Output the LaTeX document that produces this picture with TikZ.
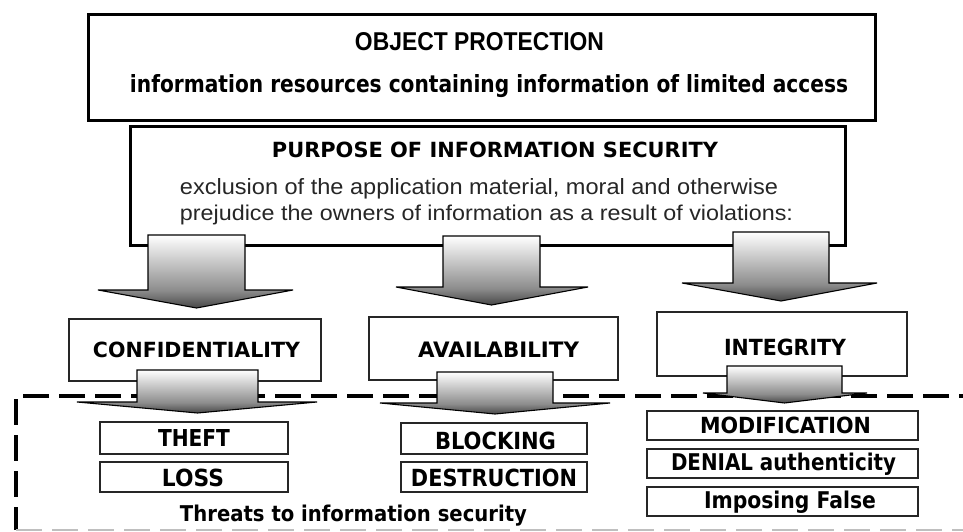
\documentclass[tikz,border=0pt]{standalone}
\usepackage{fontspec}
\setmainfont{Liberation Sans}
\newfontfamily\tahoma{DejaVu Sans}
\usepackage{graphicx}
% text fitted to a given width and height (in pt)
\newcommand{\fitbox}[3]{\resizebox{#1pt}{#2pt}{#3}}
% block arrow: white at the top of the shaft, darkening towards the tip
\pgfdeclareverticalshading{blockfill}{100bp}{%
  color(0bp)=(black!72); color(25bp)=(black!72); color(37bp)=(black!45);
  color(75bp)=(white); color(100bp)=(white)}
% #1 name, #2/#3 shaft left/right, #4 shaft top, #5 head base y,
% #6/#7 head left/right, #8 tip y
\newcommand{\blockarrow}[8]{%
  \coordinate (#1-tip) at ({(#2+#3)/2},#8);
  \path[shading=blockfill, draw=black, line width=1.1pt, line join=miter]
    (#2,#4) -- (#3,#4) -- (#3,#5) -- (#7,#5) -- (#1-tip) -- (#6,#5)
    -- (#2,#5) -- cycle;}
\begin{document}
\begin{tikzpicture}[x=1pt, y=-1pt,
  bigbox/.style={draw=black, line width=3pt, fill=white, inner sep=0pt},
  midbox/.style={draw=black!85, line width=1.6pt, fill=white, inner sep=0pt},
  smallbox/.style={draw=black!85, line width=2pt, fill=white, inner sep=0pt},
  txt/.style={inner sep=0pt, anchor=base},
  threats/.style={draw=black, line width=3.5pt, dash pattern=on 26pt off 10pt}]
\useasboundingbox (0,0) rectangle (963,532);
\clip (0,0) rectangle (963,532);

% upper boxes
\node[bigbox, minimum width=787pt, minimum height=106pt] (object) at (482,67.5) {};
\node[bigbox, minimum width=715pt, minimum height=119pt] (purpose) at (488,186) {};

% arrows from the purpose box to the three properties
\blockarrow{aconf}{148}{245}{235}{290}{98}{293}{308}
\blockarrow{aavail}{443}{540}{236}{287}{396}{588}{305}
\blockarrow{ainteg}{733}{829}{232}{283}{682}{877}{301}

% the three properties
\node[midbox, minimum width=252pt, minimum height=62pt] (conf) at (195,350) {};
\node[midbox, minimum width=249pt, minimum height=63pt] (avail) at (493.5,348.5) {};
\node[midbox, minimum width=250pt, minimum height=64pt] (integ) at (782,344) {};

% frame of the threats area
\coordinate (fr-tr) at (985,396);
\coordinate (fr-tl) at (16,396);
\coordinate (fr-bl) at (16,530);
\coordinate (fr-br) at (985,530);
\draw[threats] (fr-tr) -- (fr-tl) -- (fr-bl);
\draw[threats, draw=black!25, line width=2pt] (fr-bl) -- (fr-br);

% arrows from the properties to their threats
\blockarrow{tconf}{137}{258}{370}{402}{77}{317}{413}
\blockarrow{tavail}{437}{553}{372}{403}{380}{610}{414}
\blockarrow{tinteg}{727}{842}{366}{393}{703}{867}{403}

% threats
\node[smallbox, minimum width=188pt, minimum height=32pt] (theft) at (194,438) {};
\node[smallbox, minimum width=188pt, minimum height=30pt] (loss) at (194,477) {};
\node[smallbox, minimum width=186pt, minimum height=31pt] (blocking) at (494,438.5) {};
\node[smallbox, minimum width=186pt, minimum height=30pt] (destruction) at (494,477) {};
\node[smallbox, minimum width=271pt, minimum height=29pt] (modification) at (782.5,425.5) {};
\node[smallbox, minimum width=271pt, minimum height=29pt] (denial) at (782.5,463.5) {};
\node[smallbox, minimum width=271pt, minimum height=29pt] (imposing) at (782.5,501.5) {};

% texts
\node[txt] (t-object) at (479.5,50.5) {\fitbox{249}{18}{\bfseries OBJECT PROTECTION}};
\node[txt] (t-resources) at (489,92.5) {\fitbox{718}{18}{\tahoma\bfseries information resources containing information of limited access}};
\node[txt] (t-purpose) at (495,157.5) {\fitbox{446}{15.5}{\tahoma\bfseries PURPOSE OF INFORMATION SECURITY}};
\node[txt, text=black!85] (t-excl1) at (479,194) {\fitbox{598}{16}{exclusion of the application material, moral and otherwise}};
\node[txt, text=black!85] (t-excl2) at (486.5,220) {\fitbox{613}{15.5}{prejudice the owners of information as a result of violations:}};

\node[txt] (t-conf) at (196.5,357) {\fitbox{207}{15.5}{\tahoma\bfseries CONFIDENTIALITY}};
\node[txt] (t-avail) at (498.5,357) {\fitbox{161}{15.5}{\tahoma\bfseries AVAILABILITY}};
\node[txt] (t-integ) at (785,355.5) {\fitbox{122}{16.5}{\tahoma\bfseries INTEGRITY}};

\node[txt] (t-theft) at (194,446.7) {\fitbox{72}{17}{\tahoma\bfseries THEFT}};
\node[txt] (t-loss) at (193,486.5) {\fitbox{62}{17.5}{\tahoma\bfseries LOSS}};
\node[txt] (t-blocking) at (495.5,449) {\fitbox{121}{17.5}{\tahoma\bfseries BLOCKING}};
\node[txt] (t-destruction) at (494,486.5) {\fitbox{166}{17.5}{\tahoma\bfseries DESTRUCTION}};
\node[txt] (t-modification) at (785.5,433.5) {\fitbox{171}{16.5}{\tahoma\bfseries MODIFICATION}};
\node[txt] (t-denial) at (783.5,470) {\fitbox{225}{17.5}{\tahoma\bfseries DENIAL authenticity}};
\node[txt] (t-imposing) at (790,508.5) {\fitbox{172}{17.5}{\tahoma\bfseries Imposing False}};
\node[txt] (t-threats) at (353.5,521.5) {\fitbox{347}{16.5}{\tahoma\bfseries Threats to information security}};
\end{tikzpicture}
\end{document}
